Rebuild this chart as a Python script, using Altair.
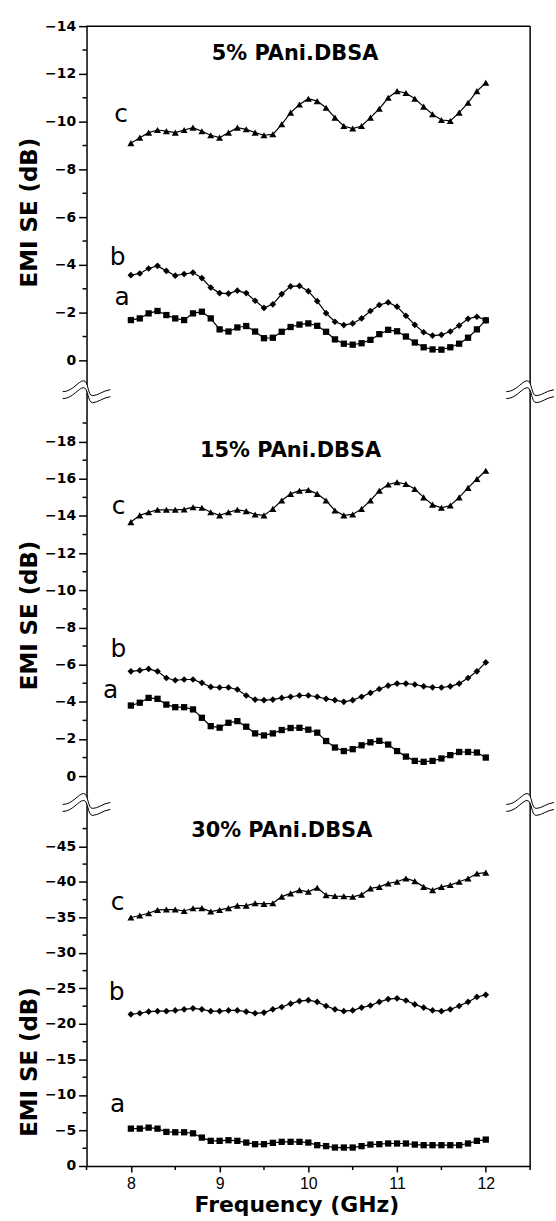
import altair as alt
import pandas as pd

# Frequency grid (GHz)
FREQ = [8.0, 8.1, 8.2, 8.3, 8.4, 8.5, 8.6, 8.7, 8.8, 8.9,
        9.0, 9.1, 9.2, 9.3, 9.4, 9.5, 9.6, 9.7, 9.8, 9.9,
        10.0, 10.1, 10.2, 10.3, 10.4, 10.5, 10.6, 10.7, 10.8, 10.9,
        11.0, 11.1, 11.2, 11.3, 11.4, 11.5, 11.6, 11.7, 11.8, 11.9, 12.0]

# 5% PAni.DBSA
P5_A = [-1.69, -1.76, -1.97, -2.07, -1.90, -1.76, -1.69, -1.97, -2.04, -1.76,
        -1.30, -1.21, -1.38, -1.44, -1.21, -0.93, -0.95, -1.20, -1.40, -1.50,
        -1.55, -1.45, -1.20, -0.88, -0.70, -0.66, -0.72, -0.86, -1.10, -1.28,
        -1.22, -1.00, -0.75, -0.55, -0.46, -0.45, -0.55, -0.70, -0.95, -1.30, -1.68]
P5_B = [-3.57, -3.64, -3.85, -3.96, -3.75, -3.55, -3.62, -3.68, -3.45, -3.05,
        -2.82, -2.80, -2.92, -2.82, -2.50, -2.20, -2.35, -2.78, -3.10, -3.12,
        -2.90, -2.48, -1.98, -1.62, -1.48, -1.55, -1.76, -2.07, -2.32, -2.43,
        -2.25, -1.87, -1.49, -1.18, -1.04, -1.07, -1.21, -1.46, -1.74, -1.83, -1.69]
P5_C = [-9.10, -9.33, -9.54, -9.65, -9.60, -9.54, -9.65, -9.75, -9.60, -9.43,
        -9.33, -9.54, -9.75, -9.68, -9.54, -9.43, -9.47, -9.89, -10.38, -10.72,
        -10.96, -10.86, -10.58, -10.17, -9.82, -9.71, -9.82, -10.17, -10.54, -11.00,
        -11.28, -11.20, -10.96, -10.63, -10.31, -10.07, -10.03, -10.38, -10.79, -11.28, -11.63]

# 15% PAni.DBSA
P15_A = [-3.80, -3.95, -4.21, -4.16, -3.85, -3.71, -3.71, -3.59, -3.14, -2.69,
         -2.61, -2.87, -2.96, -2.66, -2.30, -2.19, -2.30, -2.48, -2.59, -2.60,
         -2.50, -2.34, -1.89, -1.54, -1.35, -1.45, -1.66, -1.82, -1.90, -1.70,
         -1.35, -1.05, -0.82, -0.77, -0.82, -0.95, -1.13, -1.30, -1.30, -1.27, -1.00]
P15_B = [-5.64, -5.69, -5.77, -5.64, -5.28, -5.16, -5.20, -5.20, -5.02, -4.80,
         -4.77, -4.77, -4.66, -4.34, -4.12, -4.09, -4.12, -4.21, -4.27, -4.34,
         -4.34, -4.27, -4.16, -4.09, -4.00, -4.09, -4.27, -4.48, -4.69, -4.87,
         -4.98, -4.98, -4.93, -4.83, -4.78, -4.77, -4.83, -4.98, -5.28, -5.64, -6.12]
P15_C = [-13.67, -14.03, -14.20, -14.33, -14.33, -14.33, -14.35, -14.47, -14.44, -14.20,
         -14.03, -14.20, -14.33, -14.26, -14.08, -14.03, -14.38, -14.83, -15.19, -15.36,
         -15.40, -15.19, -14.83, -14.29, -14.03, -14.08, -14.38, -14.83, -15.36, -15.69,
         -15.81, -15.72, -15.45, -15.00, -14.61, -14.44, -14.56, -15.00, -15.51, -15.99, -16.43]

# 30% PAni.DBSA
P30_A = [-5.26, -5.26, -5.40, -5.26, -4.80, -4.75, -4.75, -4.60, -4.00, -3.54,
         -3.54, -3.63, -3.54, -3.30, -3.07, -3.07, -3.26, -3.40, -3.40, -3.40,
         -3.30, -2.93, -2.80, -2.60, -2.60, -2.60, -2.80, -3.02, -3.07, -3.17,
         -3.17, -3.17, -3.02, -2.93, -2.93, -2.93, -2.93, -2.93, -3.17, -3.54, -3.72]
P30_B = [-21.35, -21.50, -21.73, -21.80, -21.80, -21.90, -22.05, -22.20, -22.05, -21.80,
         -21.80, -21.90, -21.90, -21.73, -21.50, -21.60, -22.05, -22.38, -22.85, -23.22,
         -23.35, -23.10, -22.52, -22.05, -21.80, -21.90, -22.30, -22.60, -23.10, -23.50,
         -23.60, -23.30, -22.75, -22.30, -21.90, -21.80, -22.05, -22.52, -23.10, -23.80, -24.10]
P30_C = [-34.98, -35.26, -35.58, -36.05, -36.10, -36.10, -35.90, -36.28, -36.30, -35.82,
         -36.05, -36.30, -36.66, -36.66, -36.98, -36.90, -36.98, -37.92, -38.38, -38.84,
         -38.60, -39.18, -38.14, -38.00, -37.97, -37.90, -38.20, -39.08, -39.30, -39.78,
         -40.02, -40.48, -40.10, -39.30, -38.84, -39.30, -39.55, -40.02, -40.48, -41.17, -41.30]

# Axis ticks: labelled (major) and unlabelled (minor)
X_MAJOR = [8, 9, 10, 11, 12]
X_MINOR = [7.5, 8.5, 9.5, 10.5, 11.5, 12.5]
Y_MAJOR_5 = [-14, -12, -10, -8, -6, -4, -2, 0]
Y_MINOR_5 = [-13, -11, -9, -7, -5, -3, -1]
Y_MAJOR_15 = [-18, -16, -14, -12, -10, -8, -6, -4, -2, 0]
Y_MINOR_15 = [-19, -17, -15, -13, -11, -9, -7, -5, -3, -1]
Y_MAJOR_30 = [-45, -40, -35, -30, -25, -20, -15, -10, -5, 0]
Y_MINOR_30 = [-47.5, -42.5, -37.5, -32.5, -27.5, -22.5, -17.5, -12.5, -7.5, -2.5]

# Panel captions and curve letters (frequency, value)
CAPTIONS = ["5% PAni.DBSA", "15% PAni.DBSA", "30% PAni.DBSA"]
CAPTION_POS = [(9.85, -12.6), (9.80, -17.15), (9.70, -46.3)]
LETTERS = ["a", "b", "c"]
LETTER_POS_5 = [(7.90, -2.33), (7.85, -4.0), (7.89, -10.0)]
LETTER_POS_15 = [(7.77, -4.2), (7.86, -6.4), (7.86, -14.1)]
LETTER_POS_30 = [(7.85, -7.6), (7.84, -23.3), (7.85, -36.0)]

X_MIN, X_MAX = 7.5, 12.5
WIDTH = 446

TITLE_FONT = "DejaVu Sans"
NUM_FONT = "DejaVu Sans"

# Axis-break glyph: centre line of the wavy cut, in px around the axis
WAVE = [(-24, 3), (-14, 3), (-8, -8), (-3, -8), (2, -8), (1, 7), (6, 7),
        (12, 7), (16, 2), (24, 1)]
HALF_GAP = 3.5


def _pt(p, dy):
    return f"{p[0] / 24:.3f},{(p[1] + dy) / 24:.3f}"


def wave_path(dy):
    s = "M" + _pt(WAVE[0], dy)
    for k in (1, 4, 7):
        s += " C" + " ".join(_pt(q, dy) for q in WAVE[k:k + 3])
    return s


def band_path(gap):
    rev = list(reversed(WAVE))
    s = wave_path(-gap) + " L" + _pt(rev[0], gap)
    for k in (1, 4, 7):
        s += " C" + " ".join(_pt(q, gap) for q in rev[k:k + 3])
    return s + " Z"


def series_table(a, b, c):
    rows = []
    for name, vals in zip(LETTERS, (a, b, c)):
        for f, v in zip(FREQ, vals):
            rows.append({"freq": f, "se": v, "sample": name})
    return pd.DataFrame(rows)


def panel(a, b, c, domain, height, y_major, y_minor, title_y, caption, caption_pos,
          letter_pos, bottom=False, top=False, break_top=False):
    xs = alt.Scale(domain=[X_MIN, X_MAX], nice=False, zero=False)
    ys = alt.Scale(domain=domain, reverse=True, nice=False, zero=False)

    y_axis = alt.Axis(
        values=y_major, format="d", grid=False,
        tickSize=8, tickWidth=1.5, tickColor="black",
        domainColor="black", domainWidth=1.5,
        labelFont=NUM_FONT, labelFontSize=14, labelFontWeight="bold",
        labelColor="black", labelPadding=3, labelOverlap=False,
        title="EMI SE (dB)", titleFont=TITLE_FONT, titleFontSize=23,
        titleFontWeight="bold", titleColor="black", titleAngle=-90,
        titleAlign="center", titleBaseline="bottom", titleX=-45, titleY=title_y,
    )
    if bottom:
        x_axis = alt.Axis(
            values=X_MAJOR, format="d", grid=False,
            tickSize=6, tickWidth=1.5, tickColor="black",
            domainColor="black", domainWidth=1.5,
            labelFont="Liberation Sans", labelFontSize=16, labelColor="black",
            labelPadding=4, labelOverlap=False, labelFlush=False,
            title="Frequency (GHz)", titleFont=TITLE_FONT, titleFontSize=22,
            titleFontWeight="bold", titleColor="black", titleAlign="center",
            titleBaseline="alphabetic", titleX=211, titleY=46,
        )
        x_enc = alt.X("freq:Q", scale=xs, axis=x_axis)
    else:
        x_enc = alt.X("freq:Q", scale=xs, axis=None)

    df = series_table(a, b, c)
    base = alt.Chart(df).encode(x=x_enc, y=alt.Y("se:Q", scale=ys, axis=y_axis))
    lines = base.mark_line(color="black", strokeWidth=1.2).encode(detail="sample:N")
    points = base.mark_point(filled=True, color="black", opacity=1).encode(
        shape=alt.Shape("sample:N", legend=None,
                        scale=alt.Scale(domain=LETTERS,
                                        range=["square", "diamond", "triangle-up"])),
        size=alt.Size("sample:O", legend=None,
                      scale=alt.Scale(domain=LETTERS, range=[40, 50, 70])),
    )

    lab_df = pd.DataFrame({"freq": [p[0] for p in letter_pos],
                           "se": [p[1] for p in letter_pos],
                           "txt": LETTERS})
    letters = alt.Chart(lab_df).mark_text(
        font=TITLE_FONT, fontSize=25, color="black", align="center",
        baseline="alphabetic").encode(
        x=alt.X("freq:Q", scale=xs), y=alt.Y("se:Q", scale=ys), text="txt:N")

    cap_df = pd.DataFrame({"freq": [caption_pos[0]], "se": [caption_pos[1]],
                           "txt": [caption]})
    cap = alt.Chart(cap_df).mark_text(
        font=TITLE_FONT, fontSize=21, fontWeight="bold", color="black",
        align="center", baseline="alphabetic").encode(
        x=alt.X("freq:Q", scale=xs), y=alt.Y("se:Q", scale=ys), text="txt:N")

    # right-hand frame line
    frame_df = pd.DataFrame({"freq": [X_MAX], "lo": [domain[0]], "hi": [domain[1]]})
    right = alt.Chart(frame_df).mark_rule(color="black", strokeWidth=1.5).encode(
        x=alt.X("freq:Q", scale=xs), y=alt.Y("lo:Q", scale=ys), y2="hi:Q")

    # unlabelled minor ticks on the left axis
    ymin_df = pd.DataFrame({"se": y_minor})
    y_minor_ticks = alt.Chart(ymin_df).mark_tick(
        orient="horizontal", size=4, thickness=1.5, color="black", opacity=1,
        xOffset=-2).encode(x=alt.datum(X_MIN, scale=xs), y=alt.Y("se:Q", scale=ys))

    layers = [lines, points, letters, cap, right, y_minor_ticks]

    if bottom:
        xmin_df = pd.DataFrame({"freq": X_MINOR})
        layers.append(alt.Chart(xmin_df).mark_tick(
            orient="vertical", size=4, thickness=1.5, color="black", opacity=1,
            yOffset=2).encode(x=alt.X("freq:Q", scale=xs),
                              y=alt.datum(domain[1], scale=ys)))

    if top:
        top_df = pd.DataFrame({"x0": [X_MIN], "x1": [X_MAX], "se": [domain[0]]})
        layers.append(alt.Chart(top_df).mark_rule(color="black", strokeWidth=1.5).encode(
            x=alt.X("x0:Q", scale=xs), x2="x1:Q", y=alt.Y("se:Q", scale=ys)))

    if break_top:
        brk_df = pd.DataFrame({"freq": [X_MIN, X_MAX], "se": [domain[0], domain[0]]})
        bx = alt.X("freq:Q", scale=xs)
        by = alt.Y("se:Q", scale=ys)
        layers.append(alt.Chart(brk_df).mark_point(
            shape=band_path(HALF_GAP), filled=True, fill="white", opacity=1,
            strokeWidth=0, size=2304).encode(x=bx, y=by))
        for dy in (-HALF_GAP, HALF_GAP):
            layers.append(alt.Chart(brk_df).mark_point(
                shape=wave_path(dy), filled=False, stroke="black", opacity=1,
                strokeWidth=1, size=2304).encode(x=bx, y=by))

    return alt.layer(*layers).properties(width=WIDTH, height=height)


p5 = panel(P5_A, P5_B, P5_C, [-14, 1.33], 368, Y_MAJOR_5, Y_MINOR_5, 187,
           CAPTIONS[0], CAPTION_POS[0], LETTER_POS_5, top=True)
p15 = panel(P15_A, P15_B, P15_C, [-20.66, 1.55], 415, Y_MAJOR_15, Y_MINOR_15, 224,
            CAPTIONS[1], CAPTION_POS[1], LETTER_POS_15, break_top=True)
p30 = panel(P30_A, P30_B, P30_C, [-50.83, 0], 363, Y_MAJOR_30, Y_MINOR_30, 258,
            CAPTIONS[2], CAPTION_POS[2], LETTER_POS_30, bottom=True, break_top=True)

chart = alt.vconcat(p5, p15, p30, spacing=0, bounds="flush").properties(
    padding={"left": 19, "top": 16, "right": 0, "bottom": 0},
    background="white",
).configure_view(stroke=None)

chart.save("out.html", embed_options={"renderer": "svg", "actions": False})
